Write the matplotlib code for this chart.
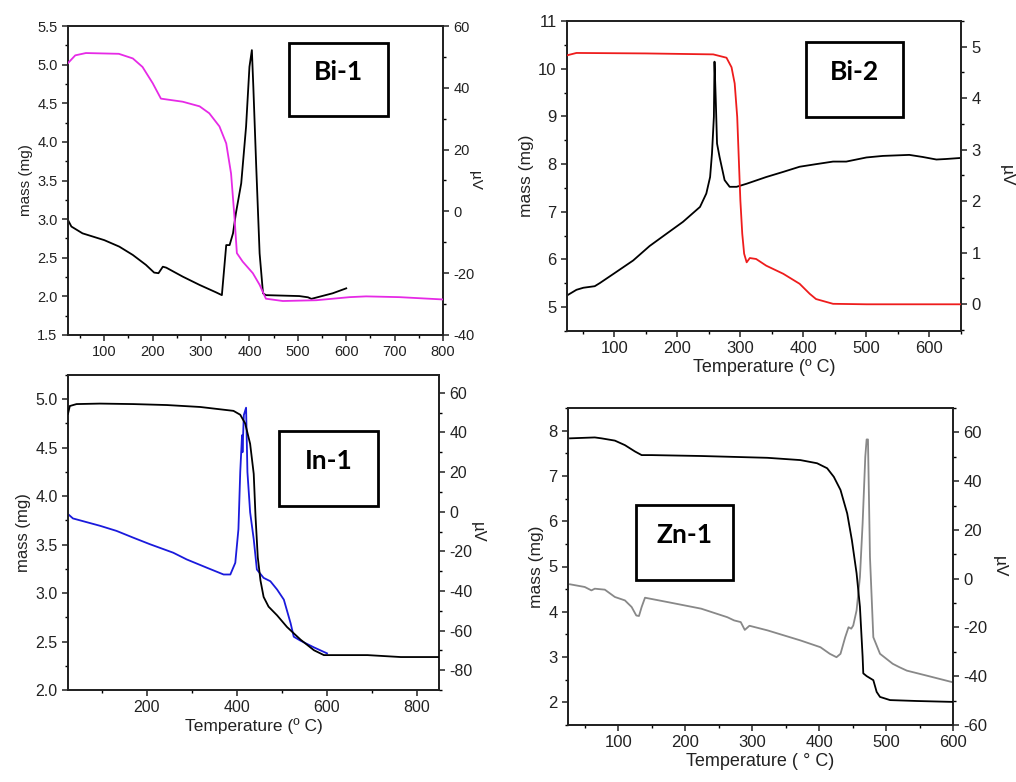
import numpy as np
import matplotlib.pyplot as plt
from matplotlib.ticker import MultipleLocator

plt.rcParams['font.family'] = ['Liberation Sans', 'DejaVu Sans']
plt.rcParams['axes.unicode_minus'] = False

# Bi-1: TG (mass) and DTA (uV)
bi1_tg_t = [25, 40, 62, 130, 159, 179, 200, 217, 228, 262, 297, 317, 338, 352, 362, 369, 374, 386, 407, 421,
            434, 469, 538, 607, 641, 710, 800]
bi1_tg_m = [5.02, 5.12, 5.15, 5.14, 5.08, 4.97, 4.76, 4.56, 4.55, 4.52, 4.46, 4.37, 4.20, 3.98, 3.59, 3.03,
            2.56, 2.45, 2.30, 2.15, 1.97, 1.94, 1.95, 1.99, 2.00, 1.99, 1.96]
bi1_dta_t = [25, 32, 55, 100, 131, 159, 186, 203, 212, 221, 228, 262, 297, 331, 343, 352, 359, 366, 372, 383,
             393, 400, 405, 408, 414, 421, 428, 434, 503, 521, 528, 545, 572, 600]
bi1_dta_v = [-2.8, -4.9, -7.1, -9.3, -11.4, -14.1, -17.3, -19.8, -20.0, -17.9, -18.2, -21.1, -23.8, -26.2,
             -27.1, -10.9, -10.9, -7.1, -0.6, 9.1, 27.4, 46.8, 52.2, 40.4, 14.5, -13.6, -26.5, -27.1, -27.4,
             -27.8, -28.3, -27.6, -26.5, -24.9]

# Bi-2
bi2_tg_t = [25, 40, 150, 257, 278, 286, 291, 295, 298, 300, 303, 306, 310, 315, 325, 341, 368, 394, 410, 420,
            447, 500, 649]
bi2_tg_m = [10.28, 10.33, 10.32, 10.30, 10.23, 10.03, 9.69, 8.99, 7.94, 7.24, 6.54, 6.12, 5.94, 6.03, 6.01,
            5.87, 5.70, 5.49, 5.28, 5.17, 5.07, 5.06, 5.06]
bi2_dta_t = [25, 40, 51, 69, 77, 100, 130, 156, 183, 209, 236, 246, 252, 255, 258, 259, 261, 263, 267, 275,
             283, 294, 310, 341, 368, 394, 420, 447, 468, 500, 526, 568, 589, 611, 626, 649]
bi2_dta_v = [0.17, 0.28, 0.32, 0.35, 0.41, 0.60, 0.85, 1.13, 1.37, 1.60, 1.89, 2.15, 2.47, 2.93, 3.64, 4.71,
             3.96, 3.12, 2.86, 2.41, 2.28, 2.28, 2.34, 2.47, 2.57, 2.67, 2.72, 2.77, 2.77, 2.85, 2.88, 2.90,
             2.86, 2.81, 2.82, 2.84]

# In-1
in1_tg_t = [25, 29, 44, 96, 170, 245, 319, 393, 408, 419, 430, 438, 442, 447, 453, 460, 471, 490, 512, 542,
            572, 594, 616, 691, 765, 849]
in1_tg_m = [4.85, 4.93, 4.95, 4.955, 4.95, 4.94, 4.92, 4.88, 4.84, 4.75, 4.54, 4.23, 3.79, 3.37, 3.13, 2.96,
            2.86, 2.77, 2.65, 2.52, 2.41, 2.36, 2.36, 2.36, 2.34, 2.34]
in1_dta_t = [25, 36, 96, 133, 170, 207, 259, 289, 334, 371, 386, 397, 404, 408, 412, 413, 416, 421, 424, 430,
             438, 445, 460, 475, 490, 505, 520, 527, 542, 572, 601]
in1_dta_v = [-1.2, -3.4, -7.1, -9.7, -13.1, -16.4, -20.7, -24.1, -28.3, -31.7, -31.7, -25.8, -8.8, 20.0, 38.6,
             30.0, 48.8, 52.5, 20.0, -0.3, -13.9, -29.2, -33.4, -35.1, -39.3, -44.4, -56.3, -63.1, -65.1,
             -68.5, -71.5]

# Zn-1
zn1_tg_t = [28, 65, 75, 95, 110, 125, 135, 150, 224, 323, 372, 397, 412, 422, 432, 442, 449, 456, 461, 465,
            466, 471, 481, 486, 491, 506, 546, 600]
zn1_tg_m = [7.83, 7.85, 7.83, 7.78, 7.68, 7.54, 7.46, 7.46, 7.44, 7.40, 7.35, 7.28, 7.17, 6.98, 6.69, 6.17,
            5.58, 4.85, 4.11, 3.01, 2.64, 2.58, 2.49, 2.23, 2.12, 2.05, 2.03, 2.01]
zn1_dta_t = [28, 50, 60, 65, 80, 95, 110, 120, 127, 131, 135, 140, 174, 224, 263, 273, 283, 289, 296, 323,
             372, 402, 416, 426, 432, 439, 444, 448, 451, 456, 461, 465, 469, 471, 473, 476, 481, 491, 510,
             520, 531, 560, 600]
zn1_dta_v = [-2.3, -3.4, -4.8, -4.1, -4.5, -7.5, -8.9, -11.6, -15.1, -15.3, -11.6, -7.8, -9.6, -12.3, -15.8,
             -17.1, -17.8, -21.0, -19.3, -21.2, -25.3, -28.1, -30.8, -32.2, -30.8, -24.0, -19.9, -20.5, -19.2,
             -13.0, 0.7, 22.6, 50.0, 57.1, 57.1, 8.9, -24.0, -30.8, -34.9, -36.3, -37.7, -39.7, -42.5]

fig = plt.figure(figsize=(10.16, 7.82), dpi=100)


def panel(rect, tg_t, tg_m, dta_t, dta_v, tg_color, dta_color, xlim, ylim, y2lim,
          xmaj, ymaj, y2maj, name, box, fs, xlabel=None, yfmt='%.1f', y2pad=14):
    ax = fig.add_axes(rect)
    ax2 = ax.twinx()
    ax.plot(tg_t, tg_m, color=tg_color, lw=1.3, zorder=3)
    ax2.plot(dta_t, dta_v, color=dta_color, lw=1.3)
    ax.set_zorder(ax2.get_zorder() + 1)
    ax.patch.set_visible(False)
    ax.set_xlim(*xlim)
    ax.set_ylim(*ylim)
    ax2.set_ylim(*y2lim)
    ax.xaxis.set_major_locator(MultipleLocator(xmaj))
    ax.xaxis.set_minor_locator(MultipleLocator(xmaj / 2))
    ax.yaxis.set_major_locator(MultipleLocator(ymaj))
    ax.yaxis.set_minor_locator(MultipleLocator(ymaj / 2))
    ax2.yaxis.set_major_locator(MultipleLocator(y2maj))
    ax2.yaxis.set_minor_locator(MultipleLocator(y2maj / 2))
    ax.yaxis.set_major_formatter(plt.FormatStrFormatter(yfmt))
    for a in (ax, ax2):
        a.tick_params(which='major', direction='out', length=4, width=1.1, labelsize=fs, colors='#222222')
        a.tick_params(which='minor', direction='out', length=2.5, width=1.0)
        for s in a.spines.values():
            s.set_linewidth(1.3)
            s.set_color('#222222')
    ax.set_ylabel('mass (mg)', fontsize=fs + 0.5, color='#222222', labelpad=3)
    ax2.set_ylabel('µV', fontsize=fs + 0.5, rotation=270, color='#222222', labelpad=y2pad)
    if xlabel:
        ax.set_xlabel(xlabel, fontsize=fs + 1, color='#222222', labelpad=2)
    # sample tag in a framed box
    bx, by, bw, bh = box
    ax.add_patch(plt.Rectangle((bx, by), bw, bh, transform=fig.transFigure, fill=True,
                               facecolor='white', edgecolor='black', lw=2, zorder=5))
    fig.text(bx + bw / 2, by + bh * 0.6, name, ha='center', va='center', fontsize=19,
             fontweight='bold', family=['Lato', 'DejaVu Sans'], zorder=6)
    return ax, ax2


W, H = 1016, 782


def rect_px(x0, y0, x1, y1):
    return [x0 / W, 1 - y1 / H, (x1 - x0) / W, (y1 - y0) / H]


panel(rect_px(68, 26, 443, 335), bi1_tg_t, bi1_tg_m, bi1_dta_t, bi1_dta_v, '#e62ae6', 'black',
      (25, 800), (1.5, 5.5), (-40, 60), 100, 0.5, 20, 'Bi-1', rect_px(289, 43, 388, 116), 10.5,
      y2pad=5)

panel(rect_px(567, 21, 961, 331), bi2_tg_t, bi2_tg_m, bi2_dta_t, bi2_dta_v, '#ee1c1c', 'black',
      (25, 650), (4.5, 11), (-0.52, 5.5), 100, 1, 1, 'Bi-2', rect_px(806, 42, 903, 117), 12,
      xlabel='Temperature (º C)', yfmt='%d', y2pad=24)

panel(rect_px(68, 375, 439, 690), in1_tg_t, in1_tg_m, in1_dta_t, in1_dta_v, 'black', '#1a1adc',
      (25, 850), (2.0, 5.25), (-90, 69), 200, 0.5, 20, 'In-1', rect_px(279, 431, 378, 506), 11.5,
      xlabel='Temperature (º C)', y2pad=9)

panel(rect_px(568, 408, 953, 725), zn1_tg_t, zn1_tg_m, zn1_dta_t, zn1_dta_v, 'black', '#888888',
      (25, 600), (1.5, 8.5), (-60, 70), 100, 1, 20, 'Zn-1', rect_px(636, 505, 733, 580), 12,
      xlabel='Temperature ( ° C)', yfmt='%d', y2pad=14)

fig.savefig('out.png', dpi=100)
